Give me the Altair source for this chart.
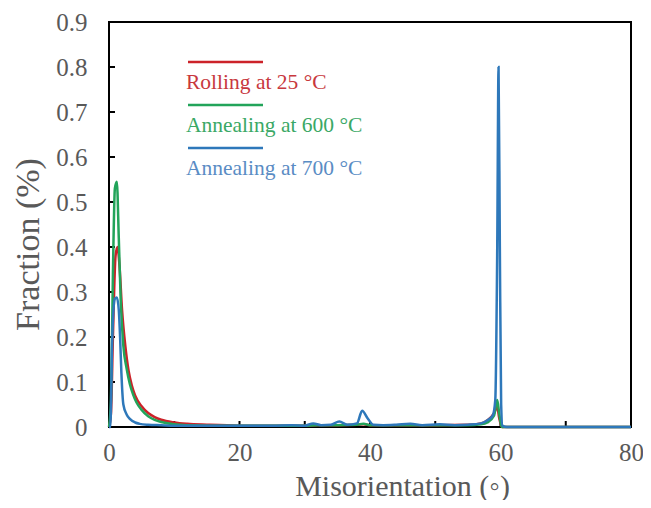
import altair as alt
import pandas as pd

# ---- data ----
series_names = ["Rolling at 25 °C", "Annealing at 600 °C", "Annealing at 700 °C"]
series_colors = ["#CC2229", "#22A45A", "#2E78BA"]
text_colors = ["#C8383E", "#3AA865", "#5A8CC4"]

rolling_x = [0, 0.3, 0.6, 1.0, 1.3, 1.6, 2.0, 2.5, 3.0, 3.5, 4.0, 5.0, 6.0, 7.0, 8.0, 10, 12, 15, 20, 25,
             30, 32, 35, 38, 39, 40, 45, 50, 55, 57, 58, 59, 59.5, 59.8, 60.2, 61, 65, 70, 80]
rolling_y = [0, 0.03, 0.2, 0.38, 0.40, 0.36, 0.26, 0.18, 0.125, 0.092, 0.07, 0.046, 0.031, 0.022, 0.016,
             0.010, 0.007, 0.005, 0.003, 0.003, 0.003, 0.004, 0.004, 0.005, 0.006, 0.004, 0.004, 0.004,
             0.005, 0.008, 0.015, 0.03, 0.045, 0.02, 0.0, 0.0, 0.0, 0.0, 0.0]

ann600_x = [0, 0.3, 0.6, 0.9, 1.2, 1.5, 1.8, 2.2, 2.7, 3.2, 3.7, 4.2, 5.0, 6.0, 7.0, 8.0, 10, 12, 15, 20,
            25, 30, 32, 35, 38, 39, 40, 45, 50, 55, 57, 58, 59, 59.5, 59.8, 60.2, 61, 65, 70, 80]
ann600_y = [0, 0.06, 0.34, 0.53, 0.545, 0.42, 0.28, 0.18, 0.13, 0.095, 0.072, 0.055, 0.038, 0.024, 0.016,
            0.011, 0.006, 0.004, 0.003, 0.003, 0.003, 0.003, 0.004, 0.004, 0.005, 0.007, 0.004, 0.004,
            0.004, 0.004, 0.006, 0.01, 0.025, 0.06, 0.03, 0.0, 0.0, 0.0, 0.0, 0.0]

ann700_x = [0, 0.2, 0.5, 0.9, 1.2, 1.5, 1.7, 1.9, 2.2, 2.7, 3.2, 4.0, 4.7, 6, 8, 10, 15, 20, 25, 28, 30,
            31.3, 32.5, 34, 35.3, 36.5, 38, 38.8, 39.6, 40.5, 42, 44, 46.2, 48, 50.7, 53, 55, 57, 58, 58.8,
            59.2, 59.5, 59.7, 59.9, 60.1, 60.3, 61, 65, 70, 80]
ann700_y = [0, 0.0, 0.2, 0.285, 0.288, 0.26, 0.2, 0.12, 0.05, 0.028, 0.018, 0.01, 0.007, 0.005, 0.004,
            0.003, 0.003, 0.003, 0.003, 0.004, 0.003, 0.008, 0.004, 0.005, 0.012, 0.005, 0.008, 0.036,
            0.02, 0.005, 0.004, 0.005, 0.007, 0.004, 0.006, 0.004, 0.005, 0.008, 0.015, 0.025, 0.06, 0.4,
            0.80, 0.4, 0.05, 0.003, 0.0, 0.0, 0.0, 0.0]

y_ticks = [0, 0.1, 0.2, 0.3, 0.4, 0.5, 0.6, 0.7, 0.8, 0.9]
x_labels = [0, 20, 40, 60, 80]
x_minor = [10, 20, 30, 40, 50, 60, 70]

# ---- build table ----
rows = []
for name, xs, ys in zip(series_names, [rolling_x, ann600_x, ann700_x], [rolling_y, ann600_y, ann700_y]):
    for i, (a, b) in enumerate(zip(xs, ys)):
        rows.append({"series": name, "x": a, "y": b, "order": i})
df = pd.DataFrame(rows)

W, H = 522, 405
FONT = "Liberation Serif"
GRAY = "#595959"

xscale = alt.Scale(domain=[0, 80], nice=False, zero=False)
yscale = alt.Scale(domain=[0, 0.9], nice=False)

lines = alt.Chart(df).mark_line(strokeWidth=2.5, interpolate="monotone").encode(
    x=alt.X("x:Q", scale=xscale,
            axis=alt.Axis(values=x_labels, title="Misorientation (◦)", ticks=False, tickSize=0,
                          domain=False, grid=False, labelFlush=False, labelPadding=13,
                          labelFontSize=25, labelFont=FONT, labelColor=GRAY,
                          titleFontSize=30, titleFont=FONT, titleColor=GRAY, titleFontWeight="normal",
                          titleX=293, titleY=68, titleBaseline="alphabetic", titleAlign="center")),
    y=alt.Y("y:Q", scale=yscale,
            axis=alt.Axis(values=y_ticks, title="Fraction (%)", ticks=False, tickSize=0,
                          domain=False, grid=False, labelFlush=False, labelPadding=22,
                          labelExpr="datum.value == 0 ? '0' : format(datum.value, '.1f')",
                          labelFontSize=25, labelFont=FONT, labelColor=GRAY,
                          titleFontSize=34, titleFont=FONT, titleColor=GRAY, titleFontWeight="normal",
                          titleX=-81, titleY=222, titleAngle=-90, titleBaseline="middle",
                          titleAlign="center")),
    color=alt.Color("series:N", scale=alt.Scale(domain=series_names, range=series_colors), legend=None),
    order=alt.Order("order:Q"),
    detail="series:N",
)

frame = alt.Chart(pd.DataFrame({"f": [0]})).mark_rect(fill=None, stroke="black", strokeWidth=2).encode(
    x=alt.value(0), x2=alt.value(W), y=alt.value(0), y2=alt.value(H))

yt = alt.Chart(pd.DataFrame({"v": y_ticks[1:]})).mark_rule(color="black", strokeWidth=2).encode(
    y=alt.Y("v:Q", scale=yscale), x=alt.value(0), x2=alt.value(6))
xt = alt.Chart(pd.DataFrame({"v": x_minor})).mark_rule(color="black", strokeWidth=2).encode(
    x=alt.X("v:Q", scale=xscale), y=alt.value(H), y2=alt.value(H - 6))

legend_layers = []
for i, (name, c, tc) in enumerate(zip(series_names, series_colors, text_colors)):
    d = pd.DataFrame({"label": [name]})
    ly = 40 + 43 * i
    legend_layers.append(alt.Chart(d).mark_rule(color=c, strokeWidth=2.5).encode(
        x=alt.value(79), x2=alt.value(154), y=alt.value(ly)))
    legend_layers.append(alt.Chart(d).mark_text(align="left", baseline="alphabetic", font=FONT,
                                                fontSize=21.5, color=tc).encode(
        text="label:N", x=alt.value(77), y=alt.value(ly + 27)))

chart = alt.layer(frame, xt, yt, lines, *legend_layers).properties(
    width=W, height=H,
    autosize=alt.AutoSizeParams(type="none"),
    padding={"left": 101, "top": 14, "right": 12, "bottom": 73},
    background="white",
).configure_view(stroke=None)

chart.save("out.html", embed_options={"renderer": "svg", "actions": False})
